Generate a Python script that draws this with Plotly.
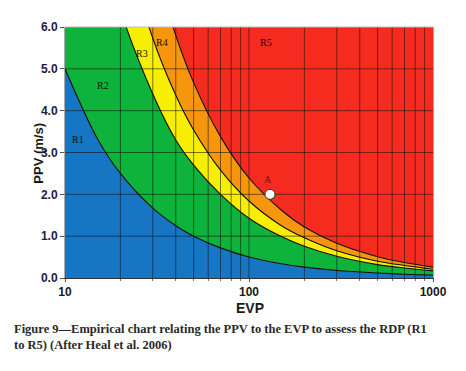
import math
import plotly.graph_objects as go

# Boundary curves (EVP on log axis, PPV in m/s)
evp = [10, 15, 20, 30, 40, 50, 70, 100, 150, 200, 300, 500, 700, 1000]
r1_r2 = [5.00, 3.33, 2.50, 1.67, 1.25, 1.00, 0.72, 0.50, 0.34, 0.26, 0.18, 0.12, 0.09, 0.07]
r2_r3 = [12.2, 8.4, 6.4, 4.4, 3.3, 2.7, 2.0, 1.43, 0.99, 0.76, 0.52, 0.32, 0.24, 0.17]
r3_r4 = [16.1, 11.0, 8.4, 5.73, 4.37, 3.54, 2.58, 1.84, 1.25, 0.96, 0.65, 0.40, 0.30, 0.21]
r4_r5 = [22.1, 14.9, 11.3, 7.66, 5.8, 4.67, 3.38, 2.39, 1.62, 1.22, 0.83, 0.51, 0.37, 0.26]

region_names = ["R1", "R2", "R3", "R4", "R5"]
region_x = [11.8, 16.1, 26.2, 33.7, 124]
region_y = [3.3, 4.6, 5.37, 5.63, 5.63]

point_name = "A"
point_evp = [130]
point_ppv = [2.0]

x_major = [10, 100, 1000]
x_minor = [20, 30, 40, 50, 60, 70, 80, 90, 200, 300, 400, 500, 600, 700, 800, 900]
y_ticks = [0, 1, 2, 3, 4, 5, 6]

colors = ["#1776c3", "#0db33a", "#f7ee00", "#f7960c", "#f62b20"]
grid_color = "rgba(15,15,15,0.55)"

fig = go.Figure()
bounds = [r1_r2, r2_r3, r3_r4, r4_r5]
for i, b in enumerate(bounds):
    fig.add_trace(go.Scatter(
        x=evp, y=b, mode="lines", line=dict(color="#111111", width=1.1, shape="spline"),
        fill="tozeroy" if i == 0 else "tonexty", fillcolor=colors[i],
        hoverinfo="skip", showlegend=False))

# grid lines drawn over the coloured zones (built from the tick lists)
gx, gy = [], []
for xv in x_minor + [100]:
    gx += [xv, xv, None]
    gy += [y_ticks[0], y_ticks[-1], None]
fig.add_trace(go.Scatter(x=gx, y=gy, mode="lines", line=dict(color=grid_color, width=1),
                         hoverinfo="skip", showlegend=False))
hx, hy = [], []
for yv in y_ticks[1:-1]:
    hx += [x_major[0], x_major[-1], None]
    hy += [yv, yv, None]
fig.add_trace(go.Scatter(x=hx, y=hy, mode="lines", line=dict(color=grid_color, width=1),
                         hoverinfo="skip", showlegend=False))

fig.add_trace(go.Scatter(
    x=point_evp, y=point_ppv, mode="markers",
    marker=dict(color="white", size=10, line=dict(color="#333333", width=1)),
    showlegend=False))

shapes = [dict(type="line", xref="paper", yref="paper", x0=0, x1=1, y0=1, y1=1,
               line=dict(color="#bbbbbb", width=1), layer="above")]

annotations = []
for name, xv, yv in zip(region_names, region_x, region_y):
    annotations.append(dict(x=math.log10(xv), y=yv, xref="x", yref="y", text=name, showarrow=False,
                            font=dict(family="Liberation Serif", size=10, color="#111111")))
annotations.append(dict(x=math.log10(127), y=2.35, xref="x", yref="y", text=point_name, showarrow=False,
                        font=dict(family="Liberation Serif", size=10, color="#6a1010")))
annotations.append(dict(x=-0.073, y=0.496, xref="paper", yref="paper", text="<b>PPV (m/s)</b>",
                        textangle=-90, showarrow=False, xanchor="center", yanchor="middle",
                        font=dict(family="Liberation Sans", size=13, color="#1a1a1a")))
annotations.append(dict(x=0.503, y=-0.118, xref="paper", yref="paper", text="<b>EVP</b>",
                        showarrow=False, xanchor="center", yanchor="middle",
                        font=dict(family="Liberation Sans", size=14, color="#1a1a1a")))
annotations.append(dict(x=-0.144, y=-0.166, xref="paper", yref="paper", xanchor="left", yanchor="top",
                        align="left", showarrow=False,
                        text="<b>Figure 9—Empirical chart relating the PPV to the EVP to assess the RDP (R1<br>to R5) (After Heal et al. 2006)</b>",
                        font=dict(family="Liberation Serif", size=12.5, color="#2a2a2a")))

# page body has an 8px margin; compensate so the plot lands where the reference has it
fig.update_layout(
    width=458, height=363,
    margin=dict(l=57, r=33, t=12, b=93),
    paper_bgcolor="white", plot_bgcolor=colors[4],
    shapes=shapes, annotations=annotations,
    xaxis=dict(type="log", range=[1, 3], tickvals=x_major,
               ticktext=["<b>%d</b>" % v for v in x_major],
               showgrid=False, zeroline=False, showline=True, linecolor="#333333", linewidth=1,
               ticks="outside", ticklen=3, tickcolor="#555555",
               minor=dict(tickvals=x_minor, ticks="outside", ticklen=2, tickcolor="#777777"),
               tickfont=dict(family="Liberation Sans", size=12, color="#1a1a1a")),
    yaxis=dict(range=[0, 6], tickvals=y_ticks, ticktext=["<b>%.1f</b>" % v for v in y_ticks],
               showgrid=False, zeroline=False,
               showline=True, linecolor="#aaaaaa", linewidth=1, mirror=True,
               ticks="outside", ticklen=4, tickcolor="#555555",
               tickfont=dict(family="Liberation Sans", size=12, color="#1c1c3c")),
)

fig.write_html("out.html")
